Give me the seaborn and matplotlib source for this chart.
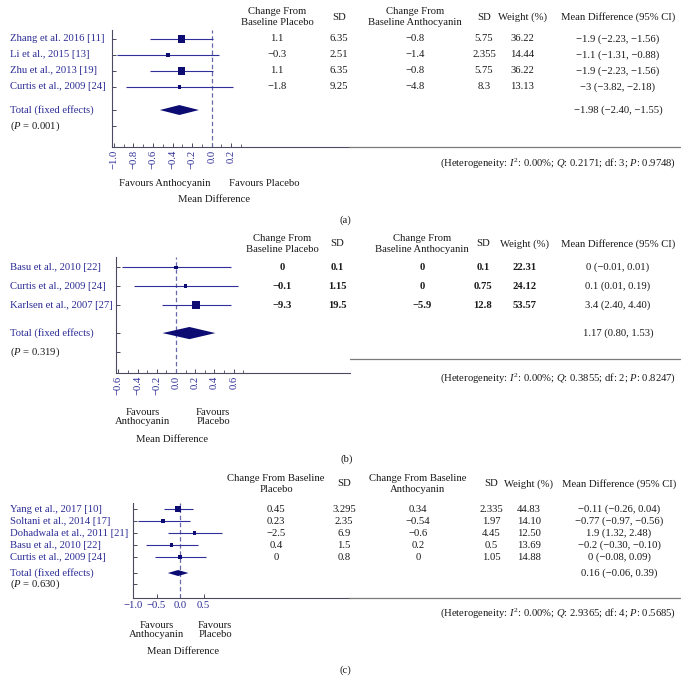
import numpy as np
import pandas as pd
import seaborn as sns
import matplotlib
matplotlib.use('Agg')
import matplotlib.pyplot as plt
from matplotlib import transforms
from matplotlib.lines import Line2D

# ---------------- data: panel (a)
studies_a = ['Zhang et al. 2016 [11]', 'Li et al., 2015 [13]', 'Zhu et al., 2013 [19]', 'Curtis et al., 2009 [24]']
est_a = [-0.31, -0.45, -0.31, -0.33]
lo_a = [-0.63, -0.97, -0.63, -0.88]
hi_a = [0.01, 0.08, 0.01, 0.22]
total_a = [-0.33, -0.53, -0.13]
p_a = '0.001'
chg_pl_a = ['1.1', '\u22120.3', '1.1', '\u22121.8']
sd_pl_a = ['6.35', '2.51', '6.35', '9.25']
chg_an_a = ['\u22120.8', '\u22121.4', '\u22120.8', '\u22124.8']
sd_an_a = ['5.75', '2.355', '5.75', '8.3']
weight_a = [36.22, 14.44, 36.22, 13.13]
md_a = ['\u22121.9 (\u22122.23, \u22121.56)', '\u22121.1 (\u22121.31, \u22120.88)',
        '\u22121.9 (\u22122.23, \u22121.56)', '\u22123 (\u22123.82, \u22122.18)']
md_total_a = '\u22121.98 (\u22122.40, \u22121.55)'
het_a = ['0.2171', '3', '0.9748']
ticks_a = [-1.0, -0.8, -0.6, -0.4, -0.2, 0.0, 0.2]

# ---------------- data: panel (b)
studies_b = ['Basu et al., 2010 [22]', 'Curtis et al., 2009 [24]', 'Karlsen et al., 2007 [27]']
est_b = [0.0, 0.10, 0.21]
lo_b = [-0.56, -0.44, -0.15]
hi_b = [0.57, 0.65, 0.57]
total_b = [0.14, -0.14, 0.41]
p_b = '0.319'
chg_pl_b = ['0', '\u22120.1', '\u22129.3']
sd_pl_b = ['0.1', '1.15', '19.5']
chg_an_b = ['0', '0', '\u22125.9']
sd_an_b = ['0.1', '0.75', '12.8']
weight_b = [22.31, 24.12, 53.57]
md_b = ['0 (\u22120.01, 0.01)', '0.1 (0.01, 0.19)', '3.4 (2.40, 4.40)']
md_total_b = '1.17 (0.80, 1.53)'
het_b = ['0.3855', '2', '0.8247']
ticks_b = [-0.6, -0.4, -0.2, 0.0, 0.2, 0.4, 0.6]

# ---------------- data: panel (c)
studies_c = ['Yang et al., 2017 [10]', 'Soltani et al., 2014 [17]', 'Dohadwala et al., 2011 [21]',
             'Basu et al., 2010 [22]', 'Curtis et al., 2009 [24]']
est_c = [-0.04, -0.36, 0.30, -0.18, 0.0]
lo_c = [-0.33, -0.89, -0.26, -0.73, -0.53]
hi_c = [0.27, 0.21, 0.90, 0.39, 0.55]
total_c = [-0.04, -0.26, 0.18]
p_c = '0.630'
chg_pl_c = ['0.45', '0.23', '\u22122.5', '0.4', '0']
sd_pl_c = ['3.295', '2.35', '6.9', '1.5', '0.8']
chg_an_c = ['0.34', '\u22120.54', '\u22120.6', '0.2', '0']
sd_an_c = ['2.335', '1.97', '4.45', '0.5', '1.05']
weight_c = [44.83, 14.10, 12.50, 13.69, 14.88]
md_c = ['\u22120.11 (\u22120.26, 0.04)', '\u22120.77 (\u22120.97, \u22120.56)', '1.9 (1.32, 2.48)',
        '\u22120.2 (\u22120.30, \u22120.10)', '0 (\u22120.08, 0.09)']
md_total_c = '0.16 (\u22120.06, 0.39)'
het_c = ['2.9365', '4', '0.5685']
ticks_c = [-1.0, -0.5, 0.0, 0.5]

# ---------------- style
sns.set_style('ticks')
plt.rcParams['font.family'] = ['Liberation Serif', 'DejaVu Serif']
plt.rcParams['mathtext.fontset'] = 'custom'
plt.rcParams['mathtext.rm'] = 'Liberation Serif'
plt.rcParams['mathtext.it'] = 'Liberation Serif:italic'

W, H = 689, 692
FS = 7.7
LABEL_C = '#2c2c96'
TEXT_C = '#1a1a1a'
MARK_C = '#0c0c72'
LINE_C = '#30309a'
SPINE_C = '#4a4a60'
RULE_C = '#7a7a7a'

fig = plt.figure(figsize=(W / 100, H / 100), dpi=100)


def ftext(x, y, s, **kw):
    kw.setdefault('fontsize', FS)
    kw.setdefault('color', TEXT_C)
    kw.setdefault('ha', 'center')
    kw.setdefault('va', 'center')
    fig.text(x / W, 1 - y / H, s, **kw)


def rule(x0, x1, y):
    fig.add_artist(Line2D([x0 / W, x1 / W], [1 - y / H, 1 - y / H], transform=fig.transFigure,
                          color=RULE_C, lw=0.9))


def panel(box, x0, scale, gaps, studies, est, lo, hi, total, pval, cols, weights,
          md, md_total, ticks, colx, hdr_y, headers, sizes, dh, rot, minor, bold):
    left, right, top, bottom = box
    n = len(studies)
    ypos = np.arange(n, dtype=float)
    y_tot = n - 1 + gaps[0]
    y_p = y_tot + gaps[1]
    ax = fig.add_axes([left / W, 1 - bottom / H, (right - left) / W, (bottom - top) / H])
    ax.set_xlim(x0, x0 + (right - left) / scale)
    ax.set_ylim(y_p + gaps[2], -gaps[3])

    df = pd.DataFrame({'est': est, 'lo': lo, 'hi': hi, 'y': ypos, 'w': weights})
    ax.hlines(df['y'], df['lo'], df['hi'], color=LINE_C, lw=0.8, zorder=2)
    sns.scatterplot(data=df, x='est', y='y', size='w', sizes=sizes, marker='s',
                    color=MARK_C, edgecolor=MARK_C, linewidth=0, legend=False, ax=ax, zorder=3)
    ax.fill([total[1], total[0], total[2], total[0]],
            [y_tot, y_tot - dh, y_tot, y_tot + dh], color=MARK_C, lw=0, zorder=3)
    ax.axvline(0, color='#6868aa', lw=0.9, ls=(0, (3.5, 2.2)), zorder=1)
    ax.set_xlabel('')
    ax.set_ylabel('')

    for s in ['top', 'right']:
        ax.spines[s].set_visible(False)
    for s in ['left', 'bottom']:
        ax.spines[s].set_color(SPINE_C)
        ax.spines[s].set_linewidth(0.8)
    ax.set_yticks(list(ypos) + [y_tot, y_p])
    ax.set_yticklabels([])
    ax.set_xticks(ticks)
    ax.set_xticklabels([f'{t:.1f}'.replace('-', '\u2212') for t in ticks],
                       rotation=rot, fontsize=FS, color=LABEL_C)
    if minor:
        ax.set_xticks(np.arange(ticks[0], ticks[-1] + 0.15, 0.1), minor=True)
    ax.tick_params(axis='both', which='major', direction='in', length=3, width=0.7, color=SPINE_C, pad=2)
    ax.tick_params(axis='x', which='minor', direction='in', length=2, width=0.6, color=SPINE_C)

    tr = transforms.blended_transform_factory(fig.transFigure, ax.transData)
    for yy, name in zip(ypos, studies):
        ax.text(10 / W, yy, name, transform=tr, fontsize=FS, color=LABEL_C, va='center', ha='left')
    ax.text(10 / W, y_tot, 'Total (fixed effects)', transform=tr, fontsize=FS, color=LABEL_C,
            va='center', ha='left')
    ax.text(10 / W, y_p, f'($P$ = {pval})', transform=tr, fontsize=FS, color=TEXT_C,
            va='center', ha='left')

    wcol = [f'{w:.2f}' for w in weights]
    table = cols + [wcol]
    for ci, col in enumerate(table):
        for yy, v in zip(ypos, col):
            ax.text(colx[ci] / W, yy, v, transform=tr, fontsize=FS, color=TEXT_C, va='center',
                    ha='center', fontweight='bold' if bold else 'normal')
    for yy, v in zip(ypos, md):
        ax.text(colx[5] / W, yy, v, transform=tr, fontsize=FS, color=TEXT_C, va='center', ha='center')
    ax.text(colx[5] / W, y_tot, md_total, transform=tr, fontsize=FS, color=TEXT_C, va='center', ha='center')

    for ci, h in enumerate(headers):
        ftext(colx[ci], hdr_y, h, linespacing=1.3)
    return ax


def het_text(het):
    return ('(Heterogeneity: $I^2$: 0.00%; $Q$: ' + het[0] + '; df: ' + het[1]
            + '; $P$: ' + het[2] + ')')


hdr_ab = ['Change From\nBaseline Placebo', 'SD', 'Change From\nBaseline Anthocyanin', 'SD',
          'Weight (%)', 'Mean Difference (95% CI)']
hdr_c = ['Change From Baseline\nPlacebo', 'SD', 'Change From Baseline\nAnthocyanin', 'SD',
         'Weight (%)', 'Mean Difference (95% CI)']

# (a)
panel((112, 350, 30, 147), -1.02, 97.7, (1.44, 1.0, 1.31, 0.56),
      studies_a, est_a, lo_a, hi_a, total_a, p_a, [chg_pl_a, sd_pl_a, chg_an_a, sd_an_a], weight_a,
      md_a, md_total_a, ticks_a, [277, 339, 415, 484, 522, 618], 17, hdr_ab,
      (6, 30), 0.31, 90, True, False)
rule(349, 680, 147)
ftext(676, 163, het_text(het_a), ha='right')
ftext(165, 184, 'Favours Anthocyanin')
ftext(264, 184, 'Favours Placebo')
ftext(214, 200, 'Mean Difference')
ftext(345, 220, '(a)')

# (b)
panel((116, 350, 257, 373), -0.624, 96.1, (1.47, 1.0, 1.1, 0.53),
      studies_b, est_b, lo_b, hi_b, total_b, p_b, [chg_pl_b, sd_pl_b, chg_an_b, sd_an_b], weight_b,
      md_b, md_total_b, ticks_b, [282, 337, 422, 483, 525, 618], 244, hdr_ab,
      (5, 38), 0.32, 90, True, True)
rule(350, 680, 359)
ftext(676, 378, het_text(het_b), ha='right')
ftext(143, 417, 'Favours\nAnthocyanin', linespacing=1.1)
ftext(213, 417, 'Favours\nPlacebo', linespacing=1.1)
ftext(172, 440, 'Mean Difference')
ftext(347, 459, '(b)')

# (c)
panel((133, 350, 503, 598), -1.0, 47.0, (1.33, 0.92, 1.16, 0.5),
      studies_c, est_c, lo_c, hi_c, total_c, p_c, [chg_pl_c, sd_pl_c, chg_an_c, sd_an_c], weight_c,
      md_c, md_total_c, ticks_c, [276, 344, 418, 491, 529, 619], 484, hdr_c,
      (5, 16), 0.25, 0, False, False)
rule(349, 680, 598)
ftext(676, 613, het_text(het_c), ha='right')
ftext(157, 630, 'Favours\nAnthocyanin', linespacing=1.1)
ftext(215, 630, 'Favours\nPlacebo', linespacing=1.1)
ftext(183, 652, 'Mean Difference')
ftext(345, 670, '(c)')

fig.savefig('out.png', dpi=100)
